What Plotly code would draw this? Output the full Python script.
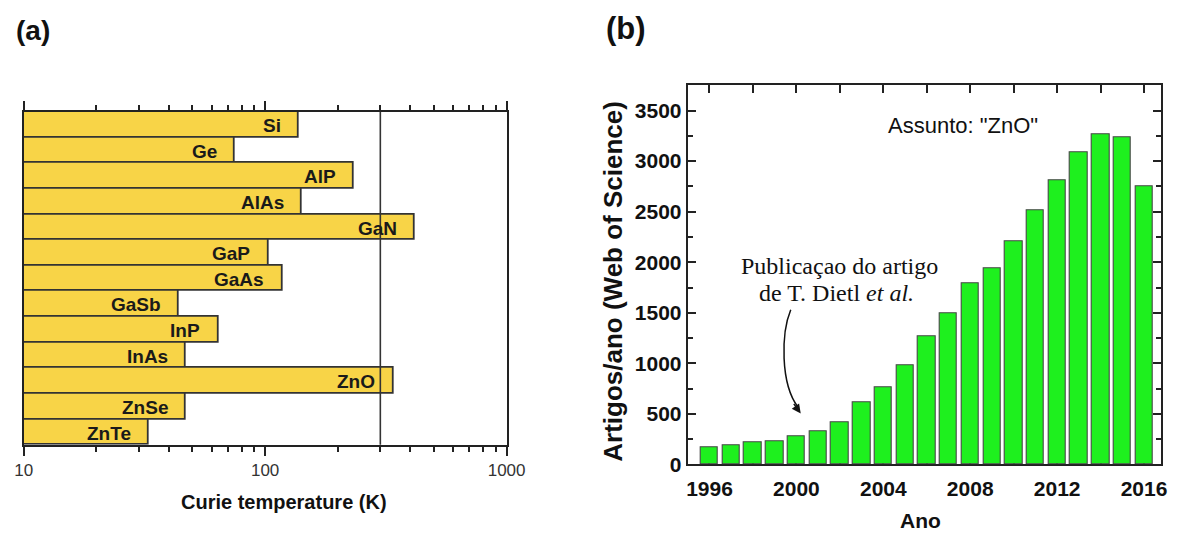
import math
import plotly.graph_objects as go

# (a) Curie temperatures of p-type semiconductors (K), log axis
materials = ["Si", "Ge", "AlP", "AlAs", "GaN", "GaP", "GaAs",
             "GaSb", "InP", "InAs", "ZnO", "ZnSe", "ZnTe"]
curie_k = [138, 75, 233, 142, 418, 103, 118, 44, 64, 47, 340, 47, 33]
room_temp_k = 300

# (b) articles per year on "ZnO" (Web of Science)
years = list(range(1996, 2017))
articles = [175, 192, 222, 232, 280, 325, 422, 615, 765, 985, 1265, 1500,
            1789, 1943, 2209, 2514, 2813, 3092, 3269, 3240, 2755]
y_ticks = [0, 500, 1000, 1500, 2000, 2500, 3000, 3500]
x_ticks = [1996, 2000, 2004, 2008, 2012, 2016]

W, H = 1198, 547
SANS = "Liberation Sans, Arial, sans-serif"
SERIF = "Liberation Serif, Times New Roman, serif"


def px(x):
    return x / W


def py(y):
    return 1 - y / H


fig = go.Figure()

fig.add_trace(go.Bar(
    x=curie_k, y=materials, orientation="h",
    marker=dict(color="#F8D447", line=dict(color="#333333", width=1.8)),
    xaxis="x", yaxis="y", showlegend=False, hoverinfo="x+y",
))

fig.add_trace(go.Bar(
    x=years, y=articles, width=0.8,
    marker=dict(color="#1EF01E", line=dict(color="#474747", width=1.1)),
    xaxis="x2", yaxis="y2", showlegend=False,
))

minor_log = [v * m for m in (10, 100) for v in range(2, 10)]

fig.update_layout(
    width=W, height=H,
    margin=dict(l=0, r=0, t=0, b=0),
    paper_bgcolor="white", plot_bgcolor="white",
    bargap=0,
    font=dict(family=SANS, color="#111"),
    xaxis=dict(
        domain=[px(15), px(509.5)], anchor="y", type="log", range=[1, 3],
        tickvals=[10, 100, 1000], ticktext=["10", "100", "1000"],
        ticks="outside", ticklen=9, tickwidth=1.5, tickcolor="#222",
        minor=dict(tickvals=minor_log, ticks="outside", ticklen=5,
                   tickwidth=1.5, tickcolor="#222", showgrid=False),
        showline=True, linecolor="#222", linewidth=2, mirror="ticks",
        showgrid=False, zeroline=False,
        tickfont=dict(size=17, color="#333"),
    ),
    yaxis=dict(
        domain=[py(454), py(114)], anchor="x", type="category",
        range=[len(materials) - 0.5, -0.5],
        showticklabels=False, ticks="",
        showline=True, linecolor="#222", linewidth=2, mirror=True,
        showgrid=False, zeroline=False,
    ),
    xaxis2=dict(
        domain=[px(695), px(1180)], anchor="y2", range=[1995.0, 2016.8],
        tickvals=x_ticks, ticks="inside", ticklen=8, tickwidth=1.5,
        tickcolor="#222", ticklabelstandoff=4,
        minor=dict(dtick=2, tick0=1996, ticks="inside", ticklen=8,
                   tickwidth=1.5, tickcolor="#222", showgrid=False),
        showline=True, linecolor="#222", linewidth=2, mirror="ticks",
        showgrid=False, zeroline=False, layer="below traces",
        tickfont=dict(size=21, color="#111", family=SANS, weight="bold"),
    ),
    yaxis2=dict(
        domain=[py(474), py(87)], anchor="x2", range=[0, 3750],
        tickvals=y_ticks, ticks="inside", ticklen=8, tickwidth=1.5,
        tickcolor="#222",
        minor=dict(dtick=250, ticks="inside", ticklen=5, tickwidth=1.5,
                   tickcolor="#222", showgrid=False),
        showline=True, linecolor="#222", linewidth=2, mirror="ticks",
        showgrid=False, zeroline=False,
        tickfont=dict(size=21, color="#111", family=SANS, weight="bold"),
    ),
)

# room-temperature marker line
fig.add_shape(type="line", xref="x", yref="y domain",
              x0=room_temp_k, x1=room_temp_k, y0=0, y1=1,
              line=dict(color="#333", width=1.6))

annotations = []

# material names inside the bars, right-aligned near the bar end
for name, t in zip(materials, curie_k):
    annotations.append(dict(
        x=math.log10(t), y=name, xref="x", yref="y",
        text=f"<b>{name}</b>", showarrow=False,
        xanchor="right", yanchor="middle", xshift=-16, yshift=-1,
        font=dict(family=SANS, size=19, color="#1a1a1a"),
    ))


def label(x, y, text, size, family=SANS, angle=0):
    return dict(x=px(x), y=py(y), xref="paper", yref="paper",
                xanchor="center", yanchor="middle", text=text,
                showarrow=False, textangle=angle,
                font=dict(family=family, size=size, color="#111"))


# titles, panel letters and notes
annotations += [
    label(282, 512, "<b>Curie temperature (K)</b>", 20),
    label(933, 531, "<b>Ano</b>", 21),
    label(619, 287, "<b>Artigos/ano (Web of Science)</b>", 26, angle=-90),
    label(25, 31, "<b>(a)</b>", 28),
    label(632, 29, "<b>(b)</b>", 31),
    label(977, 128, 'Assunto: "ZnO"', 22),
    label(850, 271, "Publicaçao do artigo", 24, family=SERIF),
    label(847, 299, "de T. Dietl <i>et al.</i>", 24, family=SERIF),
    # arrow head at the end of the curved pointer
    dict(x=2000.2, y=505, xref="x2", yref="y2", ax=-8, ay=-11,
         text="", showarrow=True, arrowhead=2, arrowsize=1.2,
         arrowwidth=1.5, arrowcolor="#111"),
]
fig.update_layout(annotations=annotations)

# curved pointer from the note towards the 2000 bars
fig.add_shape(type="path", xref="x2", yref="y2",
              path="M 1999.74,1530 C 1999.3,1300 1999.25,800 2000.08,565",
              line=dict(color="#111", width=1.5))

fig.write_html("out.html")
